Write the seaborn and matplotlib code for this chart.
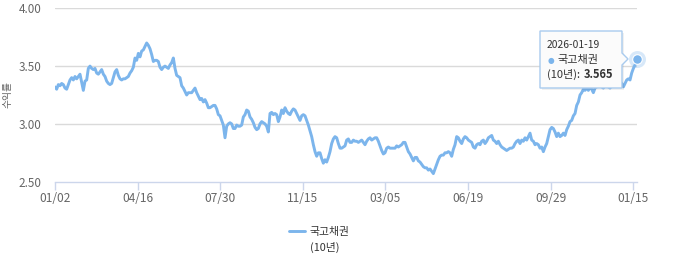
import numpy as np
import pandas as pd
import matplotlib
matplotlib.use("Agg")
import matplotlib.pyplot as plt
import seaborn as sns
from matplotlib.patches import Polygon
from matplotlib.lines import Line2D

# ---- data (10-year KTB yield, 2024-01-02 .. 2026-01-19) ----
yields_2024a = [
    3.32, 3.30, 3.34, 3.33, 3.35, 3.34, 3.31, 3.30, 3.34, 3.38,
    3.40, 3.38, 3.41, 3.39, 3.41, 3.43, 3.36, 3.29, 3.37, 3.38,
    3.48, 3.50, 3.48, 3.47, 3.48, 3.44, 3.43, 3.45, 3.47, 3.43,
    3.41, 3.37, 3.35, 3.34, 3.35, 3.40, 3.45, 3.47, 3.42, 3.39,
    3.38, 3.39, 3.39, 3.40, 3.41, 3.44, 3.46, 3.49, 3.57, 3.55,
    3.61, 3.58, 3.63, 3.64, 3.67, 3.70, 3.68, 3.65, 3.60, 3.54,
    3.55, 3.55, 3.54, 3.49, 3.47, 3.49, 3.50, 3.49, 3.48, 3.51,
    3.53, 3.57, 3.48, 3.42, 3.41, 3.40, 3.33, 3.31, 3.28, 3.25,
    3.27, 3.27, 3.27, 3.29, 3.31, 3.27, 3.24, 3.21, 3.22, 3.19,
    3.21, 3.18, 3.14, 3.14, 3.15, 3.16, 3.16, 3.13, 3.08,
]
yields_2024b = [
    3.07, 3.03, 2.99, 2.88, 2.98, 3.00, 3.01, 3.00, 2.96, 2.96,
    2.99, 2.98, 2.98, 2.99, 3.06, 3.08, 3.12, 3.11, 3.06, 3.04,
    3.01, 2.97, 2.95, 2.96, 3.00, 3.02, 3.01, 3.00, 2.98, 2.93,
    3.09, 3.10, 3.08, 3.09, 3.08, 3.02, 3.06, 3.12, 3.09, 3.14,
    3.11, 3.09, 3.08, 3.11, 3.13, 3.12, 3.09, 3.06, 3.03, 3.07,
    3.08, 3.07, 3.03, 2.99, 2.94, 2.89, 2.82, 2.76, 2.72, 2.75,
    2.75, 2.70, 2.66, 2.69, 2.67, 2.71, 2.76, 2.83, 2.87, 2.89,
    2.88, 2.83, 2.79, 2.79, 2.80, 2.81, 2.86, 2.87, 2.84, 2.84,
    2.86, 2.85, 2.85, 2.84, 2.85, 2.86, 2.84, 2.82, 2.85, 2.87,
    2.88, 2.86, 2.87, 2.88, 2.88, 2.85, 2.81, 2.77, 2.74, 2.75,
    2.79, 2.80, 2.79, 2.79, 2.79, 2.79, 2.81, 2.80, 2.81, 2.82,
    2.84, 2.84, 2.80, 2.76, 2.74, 2.71, 2.68, 2.71, 2.71, 2.68,
    2.67, 2.65, 2.63, 2.62, 2.62, 2.60, 2.61, 2.59, 2.57, 2.61,
    2.65, 2.69, 2.72,
]
yields_2025 = [
    2.73, 2.73, 2.75, 2.75, 2.76, 2.75, 2.72, 2.78, 2.82, 2.89,
    2.88, 2.85, 2.83, 2.87, 2.89, 2.88, 2.86, 2.85, 2.84, 2.80,
    2.79, 2.82, 2.83, 2.82, 2.85, 2.86, 2.83, 2.85, 2.88, 2.89,
    2.90, 2.86, 2.85, 2.83, 2.85, 2.82, 2.80, 2.79, 2.78, 2.77,
    2.78, 2.79, 2.79, 2.80, 2.83, 2.85, 2.86, 2.83, 2.86, 2.85,
    2.88, 2.86, 2.89, 2.92, 2.86, 2.85, 2.82, 2.83, 2.82, 2.79,
    2.80, 2.76, 2.80, 2.83, 2.89, 2.95, 2.97, 2.96, 2.93, 2.89,
    2.92, 2.89, 2.90, 2.92, 2.90, 2.95, 2.98, 3.02, 3.03, 3.07,
    3.09, 3.16, 3.19, 3.25, 3.27, 3.30, 3.29, 3.31, 3.29, 3.32,
    3.30, 3.27, 3.31, 3.32, 3.33, 3.33, 3.32, 3.31, 3.33, 3.33,
    3.32, 3.31, 3.33, 3.34, 3.35, 3.35, 3.36, 3.37, 3.35, 3.32,
    3.35, 3.38, 3.39, 3.38, 3.44, 3.48, 3.51, 3.565,
]
tick_labels = ["01/02", "04/16", "07/30", "11/15", "03/05", "06/19", "09/29", "01/15"]
y_ticks = [2.50, 3.00, 3.50, 4.00]
series_name = "국고채권"
series_sub = "(10년)"
last_date = "2026-01-19"
y_title = "수익률"

# ---- styling ----
sns.set_theme(style="white")
plt.rcParams['font.family'] = ['Noto Sans CJK KR', 'DejaVu Sans']

LINE = "#7cb5ec"
AXIS = "#ccd6eb"
GRID = "#dadada"
LABEL = "#666666"

values = yields_2024a + yields_2024b + yields_2025
df = pd.DataFrame({"idx": np.arange(len(values)), "yield": values})
n = len(values)

W, H = 680, 260
fig = plt.figure(figsize=(W / 100, H / 100), dpi=100)

def fx(px):
    return px / W

def fy(py):
    return 1 - py / H

left, right, top, bottom = 55, 636.7, 8.3, 181.7
ax = fig.add_axes([fx(left), fy(bottom), fx(right - left), (bottom - top) / H])

sns.lineplot(data=df, x="idx", y="yield", ax=ax, color=LINE, linewidth=2.1,
             legend=False, zorder=3)

ax.set_xlim(0, n - 1)
ax.set_ylim(2.5, 4.0)
ax.set_xlabel("")
ax.set_ylabel("")

# ticks
step = (n - 1) * 0.9938 / (len(tick_labels) - 1)
ax.set_xticks([i * step for i in range(len(tick_labels))])
ax.set_xticklabels(tick_labels, fontsize=8.6, color=LABEL)
ax.set_yticks(y_ticks)
ax.set_yticklabels([f"{v:.2f}" for v in y_ticks], fontsize=8.4, color=LABEL)
ax.tick_params(axis="x", direction="out", length=6, width=1, color=AXIS, pad=1.2, bottom=True)
ax.tick_params(axis="y", length=0, pad=9.5)

for s in ["top", "right", "left"]:
    ax.spines[s].set_visible(False)
ax.spines["bottom"].set_color(AXIS)
ax.spines["bottom"].set_linewidth(1)

for v in y_ticks[1:]:
    ax.axhline(v, color=GRID, linewidth=1, zorder=1)

# y title
fig.text(fx(7), fy(94), y_title, rotation=90, ha="center", va="center",
         fontsize=7, color=LABEL)

# hover marker at last point
ax.scatter([n - 1], [values[-1]], s=150, color=LINE, alpha=0.3, zorder=5,
           linewidths=0, clip_on=False)
ax.scatter([n - 1], [values[-1]], s=48, color=LINE, zorder=6,
           edgecolors="white", linewidths=0.8, clip_on=False)

# tooltip
tip = Polygon([(fx(540), fy(31)), (fx(622), fy(31)), (fx(622), fy(53)),
               (fx(628), fy(59)), (fx(622), fy(65)), (fx(622), fy(88)),
               (fx(540), fy(88))], closed=True, transform=fig.transFigure,
              facecolor="#fbfbfb", edgecolor="#a9cbee", linewidth=1, zorder=10)
shadow = Polygon([(fx(541.5), fy(32.5)), (fx(623.5), fy(32.5)), (fx(623.5), fy(89.5)),
                  (fx(541.5), fy(89.5))], closed=True, transform=fig.transFigure,
                 facecolor="#000000", alpha=0.06, edgecolor="none", zorder=9)
fig.patches.extend([shadow, tip])

fig.text(fx(547), fy(45), last_date, fontsize=7.4, color="#333333",
         ha="left", va="center", zorder=11)
fig.text(fx(548), fy(60), "●", fontsize=5.5, color=LINE,
         ha="left", va="center", zorder=11, family="DejaVu Sans")
fig.text(fx(557), fy(60), series_name, fontsize=8, color="#333333",
         ha="left", va="center", zorder=11)
fig.text(fx(547), fy(74), series_sub + ":", fontsize=8, color="#333333",
         ha="left", va="center", zorder=11)
fig.text(fx(584), fy(74), f"{values[-1]:.3f}", fontsize=8, color="#333333",
         fontweight="bold", ha="left", va="center", zorder=11)

# legend
leg = fig.legend(handles=[Line2D([0], [0], color=LINE, linewidth=2.1)],
                 labels=[series_name], loc="center left",
                 bbox_to_anchor=(fx(289), fy(232)), frameon=False,
                 fontsize=7.8, handlelength=1.5, handletextpad=0.35,
                 borderpad=0, borderaxespad=0)
for t in leg.get_texts():
    t.set_color("#333333")
fig.text(fx(325), fy(247), series_sub, fontsize=7.8, color="#333333",
         ha="center", va="center")

fig.savefig("out.png", dpi=100)
